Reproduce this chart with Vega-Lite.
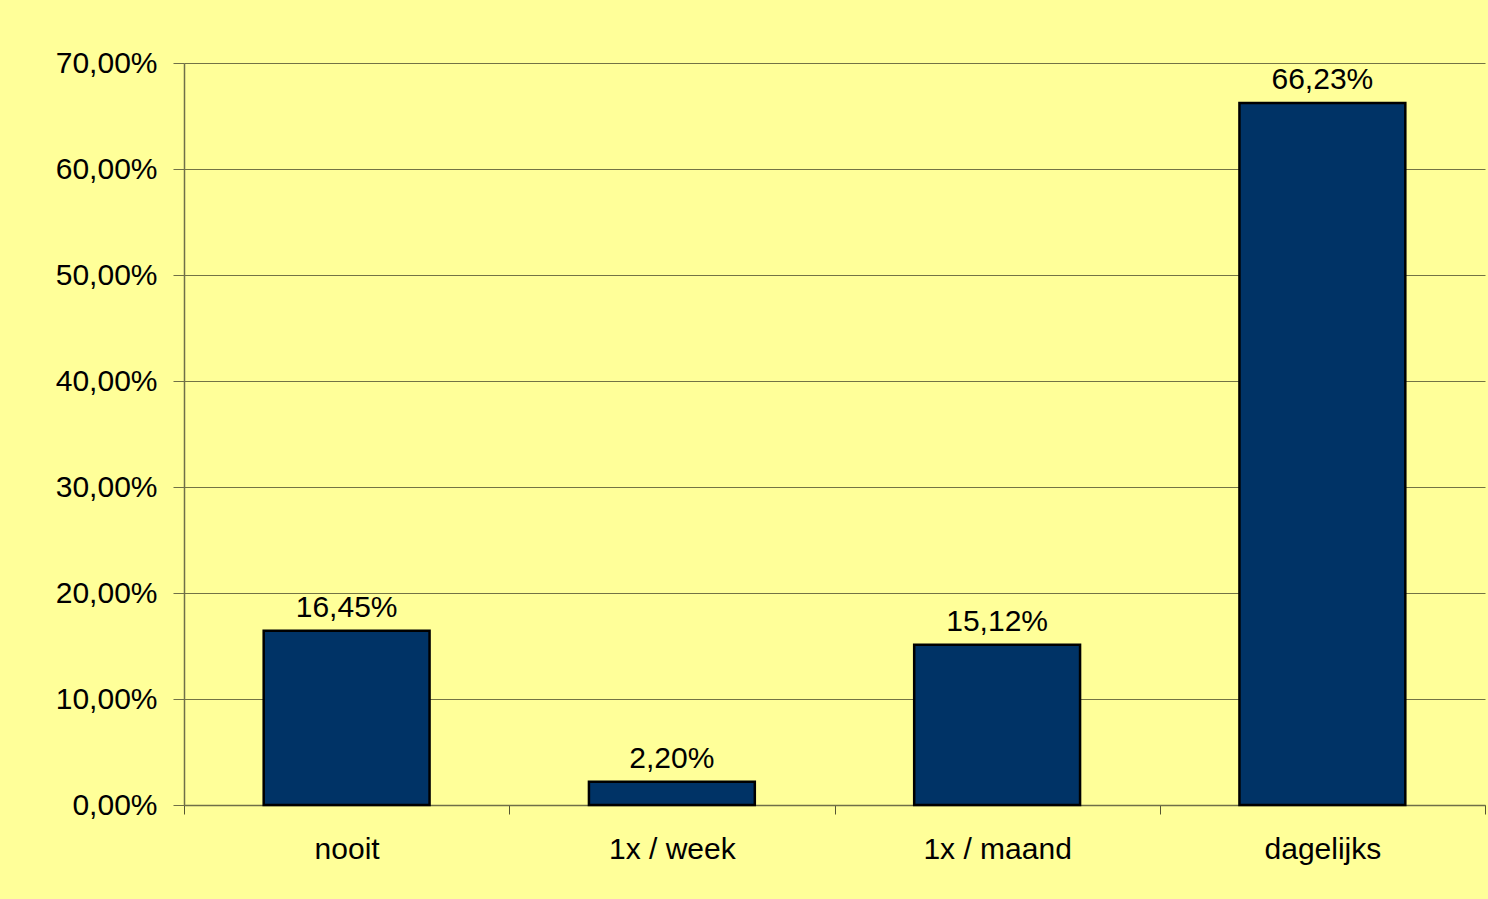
{
  "$schema": "https://vega.github.io/schema/vega-lite/v6.json",
  "width": 1301,
  "height": 742,
  "autosize": {"type": "none"},
  "padding": {"left": 184, "top": 63, "right": 3, "bottom": 94},
  "background": "#FFFF99",
  "config": {
    "locale": {"number": {"decimal": ",", "thousands": ".", "grouping": [3], "currency": ["€", ""]}},
    "view": {"stroke": null},
    "font": "Liberation Sans"
  },
  "data": {
    "values": [
      {"cat": "nooit", "v": 0.1645},
      {"cat": "1x / week", "v": 0.022},
      {"cat": "1x / maand", "v": 0.1512},
      {"cat": "dagelijks", "v": 0.6623}
    ]
  },
  "encoding": {
    "x": {
      "field": "cat", "type": "nominal", "sort": null,
      "scale": {"paddingInner": 0, "paddingOuter": 0},
      "axis": {
        "title": null, "labelAngle": 0, "labelFontSize": 30, "labelColor": "#000",
        "labelPadding": 20, "tickBand": "extent", "tickSize": 9, "tickColor": "#555533",
        "domainColor": "#6f6f48", "domainWidth": 1.5, "grid": false, "labelOverlap": false
      }
    },
    "y": {
      "field": "v", "type": "quantitative",
      "scale": {"domain": [0, 0.7], "nice": false},
      "axis": {
        "title": null, "format": ".2%", "values": [0, 0.1, 0.2, 0.3, 0.4, 0.5, 0.6, 0.7],
        "labelOverlap": false, "labelFontSize": 30, "labelColor": "#000", "labelPadding": 16, "tickSize": 11,
        "tickColor": "#6f6f48", "domainColor": "#6f6f48", "domainWidth": 1.5,
        "gridColor": "#000", "gridOpacity": 0.55, "gridWidth": 1
      }
    }
  },
  "layer": [
    {"mark": {"type": "bar", "width": {"band": 0.51}, "fill": "#003366", "stroke": "#000", "strokeWidth": 2.5}},
    {
      "mark": {"type": "text", "baseline": "bottom", "dy": -8, "fontSize": 30, "color": "#000"},
      "encoding": {"text": {"field": "v", "type": "quantitative", "format": ".2%"}}
    }
  ]
}
